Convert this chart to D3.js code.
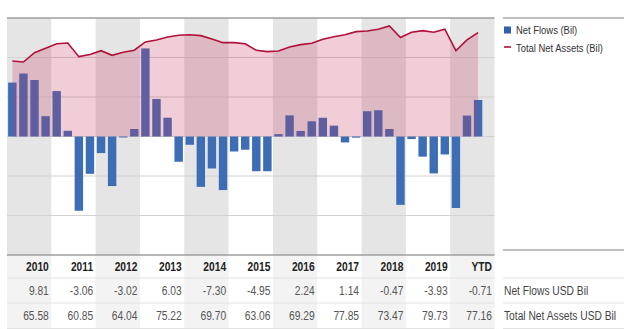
<!DOCTYPE html>
<html>
<head>
<meta charset="utf-8">
<script src="https://cdn.jsdelivr.net/npm/d3@7.9.0/dist/d3.min.js"></script>
<style>
  body { margin: 0; background: #fff; }
  svg { display: block; font-family: "Liberation Sans", Arial, sans-serif; }
</style>
</head>
<body>
<svg width="624" height="329"></svg>
<script>
// year columns and table rows
const years = ['2010', '2011', '2012', '2013', '2014', '2015', '2016', '2017', '2018', '2019', 'YTD'];
const netFlowsYear = [9.81, -3.06, -3.02, 6.03, -7.30, -4.95, 2.24, 1.14, -0.47, -3.93, -0.71];
const totalAssetsYear = [65.58, 60.85, 64.04, 75.22, 69.70, 63.06, 69.29, 77.85, 73.47, 79.73, 77.16];

// quarterly values (4 per year, YTD has 3)
const quarterFlows = [
  2.73, 3.19, 2.86, 1.03,
  2.30, 0.29, -3.76, -1.89,
  -0.84, -2.51, -0.05, 0.38,
  4.46, 1.90, 0.95, -1.28,
  -0.42, -2.55, -1.62, -2.71,
  -0.76, -0.67, -1.76, -1.76,
  0.12, 1.07, 0.28, 0.77,
  0.95, 0.55, -0.30, -0.06,
  1.28, 1.33, 0.38, -3.46,
  -0.13, -1.02, -1.87, -0.91,
  -3.62, 1.06, 1.85
];
const quarterAssets = [
  56.1, 55.3, 62.2, 65.58,
  68.9, 69.4, 59.3, 60.85,
  63.7, 60.3, 62.5, 64.04,
  70.2, 71.7, 73.9, 75.22,
  75.6, 74.9, 72.4, 69.70,
  69.7, 68.9, 64.0, 63.06,
  63.5, 66.5, 68.2, 69.29,
  72.2, 74.1, 75.6, 77.85,
  78.3, 79.6, 82.1, 73.47,
  77.4, 78.6, 77.4, 79.73,
  63.7, 71.7, 77.16
];
const flowTicks = [-6, -4, -2, 0, 2, 4, 6];
const legendItems = ['Net Flows (Bil)', 'Total Net Assets (Bil)'];
const rowLabels = ['Net Flows USD Bil', 'Total Net Assets USD Bil'];

const svg = d3.select('svg');
const plotLeft = 7, plotRight = 494.5, plotTop = 18, plotBottom = 255;
const sx = 0.82; // squeeze text to look like a condensed face

const xYear = d3.scaleBand().domain(years).range([plotLeft, plotRight]);
const quarters = [];
years.forEach(y => ['Q1', 'Q2', 'Q3', 'Q4'].forEach(q => quarters.push(y + q)));
const xQ = d3.scaleBand().domain(quarters).range([plotLeft, plotRight]).paddingInner(0.24).paddingOuter(0.1);
const yFlow = d3.scaleLinear().domain([-6, 6]).range([plotBottom, plotTop]);
const yAssets = d3.scaleLinear().domain([0, 88]).range([yFlow(0), plotTop]);

const flows = quarterFlows.map((v, i) => ({ key: quarters[i], value: v }));
const assets = quarterAssets.map((v, i) => ({ key: quarters[i], value: v }));

// alternating year bands, plot + table
svg.append('g').selectAll('rect')
  .data(years.filter((d, i) => i % 2 === 0))
  .join('rect')
  .attr('x', d => xYear(d))
  .attr('y', plotTop)
  .attr('width', xYear.bandwidth())
  .attr('height', plotBottom - plotTop)
  .attr('fill', '#e5e5e5');
svg.append('g').selectAll('rect')
  .data(years.filter((d, i) => i % 2 === 0))
  .join('rect')
  .attr('x', d => xYear(d))
  .attr('y', plotBottom)
  .attr('width', xYear.bandwidth())
  .attr('height', 329 - plotBottom)
  .attr('fill', '#f3f3f3');

// gridlines
svg.append('g').selectAll('line')
  .data(flowTicks)
  .join('line')
  .attr('x1', plotLeft).attr('x2', plotRight)
  .attr('y1', d => yFlow(d)).attr('y2', d => yFlow(d))
  .attr('stroke', d => (d === 6 || d === -6) ? '#9e9e9e' : '#d2d2d2')
  .attr('stroke-width', d => (d === 6 || d === -6) ? 1.5 : 1);

// net flow bars
svg.append('g').selectAll('rect')
  .data(flows)
  .join('rect')
  .attr('x', d => xQ(d.key))
  .attr('width', xQ.bandwidth())
  .attr('y', d => yFlow(Math.max(0, d.value)))
  .attr('height', d => Math.abs(yFlow(d.value) - yFlow(0)))
  .attr('fill', '#3d6db5');

// total net assets area + line
const area = d3.area()
  .x(d => xQ(d.key) + xQ.bandwidth() / 2)
  .y0(yAssets(0))
  .y1(d => yAssets(d.value));
svg.append('path')
  .attr('d', area(assets))
  .attr('fill', '#c8375f')
  .attr('fill-opacity', 0.25);
svg.append('path')
  .attr('d', area.lineY1()(assets))
  .attr('fill', 'none')
  .attr('stroke', '#b0103a')
  .attr('stroke-width', 1.6);

// table
const rowY = [266.5, 290.5, 315.5];
const sepY = [278, 303, 328.5];
svg.append('g').selectAll('line')
  .data(sepY)
  .join('line')
  .attr('x1', plotLeft).attr('x2', plotRight)
  .attr('y1', d => d).attr('y2', d => d)
  .attr('stroke', '#e2e2e2');
svg.append('g').selectAll('line')
  .data([250].concat(sepY))
  .join('line')
  .attr('x1', 503).attr('x2', 624)
  .attr('y1', d => d).attr('y2', d => d)
  .attr('stroke', (d, i) => i === 0 ? '#a8a8a8' : '#e2e2e2')
  .attr('stroke-width', (d, i) => i === 0 ? 1.5 : 1);

const colText = (vals, y, bold) => svg.append('g')
  .attr('transform', `scale(${sx},1)`)
  .selectAll('text')
  .data(vals)
  .join('text')
  .attr('x', (d, i) => (xYear(years[i]) + xYear.bandwidth() - 2.5) / sx)
  .attr('y', y)
  .attr('dy', '0.35em')
  .attr('text-anchor', 'end')
  .attr('font-size', 12.5)
  .attr('font-weight', bold ? 'bold' : 'normal')
  .attr('fill', bold ? '#222' : '#555')
  .text(d => d);
colText(years, rowY[0], true);
colText(netFlowsYear.map(d => d.toFixed(2)), rowY[1], false);
colText(totalAssetsYear.map(d => d.toFixed(2)), rowY[2], false);

svg.append('g')
  .attr('transform', `scale(${sx},1)`)
  .selectAll('text')
  .data(rowLabels)
  .join('text')
  .attr('x', 504 / sx)
  .attr('y', (d, i) => rowY[i + 1])
  .attr('dy', '0.35em')
  .attr('font-size', 12.5)
  .attr('fill', '#444')
  .text(d => d);

// legend
svg.append('line')
  .attr('x1', 503).attr('x2', 624).attr('y1', plotTop).attr('y2', plotTop)
  .attr('stroke', '#a8a8a8').attr('stroke-width', 1.5);
svg.append('rect')
  .attr('x', 504).attr('y', 26.5).attr('width', 7).attr('height', 7)
  .attr('fill', '#2f5fad');
svg.append('line')
  .attr('x1', 504).attr('x2', 511).attr('y1', 47).attr('y2', 47)
  .attr('stroke', '#b0103a').attr('stroke-width', 1.6);
svg.append('g')
  .attr('transform', `scale(${sx},1)`)
  .selectAll('text')
  .data(legendItems)
  .join('text')
  .attr('x', 516 / sx)
  .attr('y', (d, i) => i === 0 ? 30 : 47.5)
  .attr('dy', '0.35em')
  .attr('font-size', 11.5)
  .attr('fill', '#333')
  .text(d => d);
</script>
</body>
</html>
